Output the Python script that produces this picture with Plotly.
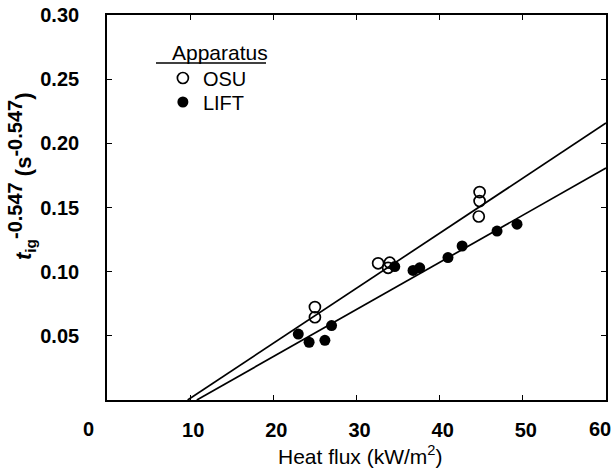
import numpy as np
import plotly.graph_objects as go

# ---- data ----
osu_x = [25.0, 25.0, 32.6, 34.0, 33.8, 44.8, 44.8, 44.7]
osu_y = [0.0724, 0.0645, 0.1065, 0.1070, 0.1030, 0.1620, 0.1550, 0.1430]

lift_x = [23.0, 24.3, 26.2, 27.0, 34.6, 36.8, 37.6, 41.0, 42.7, 46.9, 49.3]
lift_y = [0.0514, 0.0450, 0.0465, 0.0580, 0.1040, 0.1010, 0.1030, 0.1110, 0.1200, 0.1316, 0.1370]

# linear fits (slope, intercept)
osu_fit = (0.004290, -0.04161)
lift_fit = (0.003673, -0.03967)

x_ticks = [10, 20, 30, 40, 50, 60]
x_ticklabels = ["10", "20", "30", "40", "50", "60"]
y_ticks = [0.05, 0.10, 0.15, 0.20, 0.25, 0.30]
y_ticklabels = ["0.05", "0.10", "0.15", "0.20", "0.25", "0.30"]

FONT = "Liberation Sans"

# plot box in pixels (for placing text annotations)
L, R, T, B = 107, 606, 15, 400
def px(xp):
    return (xp - L) / (R - L)
def py(yp):
    return (B - yp) / (B - T)

def fit_line(fit, xmax=60):
    m, b = fit
    x0 = -b / m
    xs = np.array([x0, xmax])
    return xs, m * xs + b

fig = go.Figure()
for fit in (osu_fit, lift_fit):
    xs, ys = fit_line(fit)
    fig.add_trace(go.Scatter(x=xs, y=ys, mode="lines", showlegend=False,
                             line=dict(color="black", width=1.7), hoverinfo="skip"))

fig.add_trace(go.Scatter(x=osu_x, y=osu_y, mode="markers", name="OSU", legend="legend",
                         marker=dict(symbol="circle-open", size=11, color="black",
                                     line=dict(width=1.7, color="black"))))
fig.add_trace(go.Scatter(x=lift_x, y=lift_y, mode="markers", name="LIFT", legend="legend2",
                         marker=dict(symbol="circle", size=11, color="black")))

axis_common = dict(showline=True, linecolor="black", linewidth=1.6, mirror="ticks",
                   ticks="inside", ticklen=5, tickwidth=1.3, tickcolor="black",
                   showgrid=False, zeroline=False, automargin=False,
                   ticklabeloverflow="allow")

tickfont = dict(family=FONT, size=20, color="black", weight="bold")

# last x label ("60") is nudged left to stay inside the page, as in the reference
fig.update_xaxes(range=[0, 60], tickvals=x_ticks,
                 ticktext=x_ticklabels[:-1] + [""],
                 ticklabelstandoff=11, ticklabelshift=3,
                 tickfont=tickfont, **axis_common)
fig.update_yaxes(range=[0, 0.30], tickvals=y_ticks, ticktext=y_ticklabels,
                 ticklabelstandoff=22, tickfont=tickfont, **axis_common)

sup = "<sup><span style='font-size:20px'>-0.547</span></sup>"
ytitle = "<b><i>t</i><sub>ig</sub>" + sup + " (s" + sup + ")</b>"

legend_common = dict(x=0.112, xanchor="left", yanchor="middle",
                     font=dict(family=FONT, size=20, color="black"),
                     bgcolor="rgba(0,0,0,0)", itemwidth=30)

fig.update_layout(
    width=614, height=469,
    margin=dict(l=L, r=614 - R, t=T, b=469 - B),
    paper_bgcolor="white", plot_bgcolor="white",
    legend=dict(y=py(78), **legend_common),
    legend2=dict(y=py(102), **legend_common),
    annotations=[
        dict(text="Apparatus", x=px(170), y=py(52), xref="paper", yref="paper",
             xanchor="left", yanchor="middle", showarrow=False,
             font=dict(family=FONT, size=21, color="black")),
        dict(text="0", x=0, y=0, xref="paper", yref="paper", xanchor="center", yanchor="top",
             xshift=-19, yshift=-16, showarrow=False, font=tickfont),
        dict(text=x_ticklabels[-1], x=x_ticks[-1], y=0, xref="x", yref="paper",
             xanchor="center", yanchor="top", xshift=-6, yshift=-16, showarrow=False,
             font=tickfont),
        dict(text="Heat flux (kW/m<sup>2</sup>)", x=px(360), y=py(455), xref="paper", yref="paper",
             xanchor="center", yanchor="middle", showarrow=False,
             font=dict(family=FONT, size=21, color="black")),
        dict(text=ytitle, x=px(21), y=py(177), xref="paper", yref="paper",
             xanchor="center", yanchor="middle", textangle=-90, showarrow=False,
             font=dict(family=FONT, size=22, color="black")),
    ],
    shapes=[dict(type="line", xref="paper", yref="paper",
                 x0=px(156), x1=px(266), y0=py(63), y1=py(63),
                 line=dict(color="black", width=1.6))],
)

fig.write_html("out.html", config={"displayModeBar": False},
               post_script="document.body.style.margin='0';document.body.style.padding='0';")
